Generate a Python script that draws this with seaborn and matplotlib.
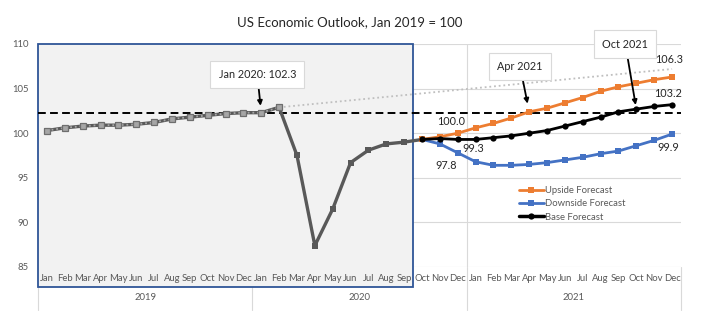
import matplotlib
matplotlib.use("Agg")
import matplotlib.pyplot as plt
import matplotlib.transforms as mtransforms
from matplotlib.patches import Rectangle
from matplotlib.lines import Line2D
import seaborn as sns
import pandas as pd
import numpy as np

# ---------------- data ----------------
months = ["Jan", "Feb", "Mar", "Apr", "May", "Jun", "Jul", "Aug", "Sep", "Oct", "Nov", "Dec"]
years = ["2019", "2020", "2021"]

# Actual index, Jan 2019 .. Oct 2020
history = [100.3, 100.6, 100.8, 100.9, 100.9, 101.0, 101.2, 101.6, 101.8, 102.0, 102.2, 102.3,
           102.3, 102.9, 97.5, 87.4, 91.5, 96.7, 98.1, 98.8, 99.0, 99.3]
# Forecasts, Oct 2020 .. Dec 2021
upside = [99.3, 99.6, 100.0, 100.6, 101.1, 101.7, 102.4, 102.8, 103.4, 104.0, 104.7, 105.2, 105.6, 106.0, 106.3]
downside = [99.3, 98.8, 97.8, 96.8, 96.4, 96.4, 96.5, 96.7, 97.0, 97.3, 97.7, 98.0, 98.6, 99.2, 99.9]
base = [99.3, 99.4, 99.3, 99.3, 99.5, 99.7, 100.0, 100.3, 100.8, 101.3, 101.8, 102.4, 102.7, 103.0, 103.2]
# Pre-COVID trend: Feb 2020 -> Dec 2021
trend_months = ["Feb 2020", "Dec 2021"]
trend_values = [102.9, 107.2]
pre_covid_level = 102.3
trend_fit_end = "Feb 2020"

# ---------------- build tables ----------------
labels = [f"{m} {y}" for y in years for m in months]
pos = {lab: i for i, lab in enumerate(labels)}
hist_df = pd.DataFrame({"x": range(len(history)), "v": history})
fc_start = len(history) - 1
fc_df = pd.DataFrame({
    "x": range(fc_start, fc_start + len(base)),
    "up": upside, "down": downside, "base": base,
})
trend_hist_df = hist_df[hist_df["x"] <= pos[trend_fit_end]]
trend_df = pd.DataFrame({"x": [pos[m] for m in trend_months], "v": trend_values})

# ---------------- style ----------------
sns.set_theme(style="white")
plt.rcParams["font.family"] = ["Lato", "DejaVu Sans"]
GRID = "#D9D9D9"
TXT = "#595959"
ORANGE = "#ED7D31"
BLUE = "#4472C4"
HIST = "#595959"

fig = plt.figure(figsize=(7.12, 3.32), dpi=100)
ax = fig.add_axes([38 / 712, 1 - 267 / 332, (681 - 38) / 712, (267 - 44) / 332])
ax.set_facecolor("white")
for s in ax.spines.values():
    s.set_visible(False)

ax.set_xlim(-0.5, len(labels) - 0.5)
ax.set_ylim(85, 110)
yt = [85, 90, 95, 100, 105, 110]
ax.set_yticks(yt)
ax.set_yticklabels([str(v) for v in yt])
ax.set_xticks(range(len(labels)))
ax.set_xticklabels(months * len(years))
ax.tick_params(axis="both", length=0, labelsize=6.8, labelcolor=TXT)
ax.tick_params(axis="y", pad=7)
ax.tick_params(axis="x", pad=5)
for v in yt:
    ax.axhline(v, color=GRID, lw=0.8, zorder=0)

blend = mtransforms.blended_transform_factory(ax.transData, ax.transAxes)
# year boundary inside plot
ax.axvline(23.5, color=GRID, lw=0.8, zorder=0)
# multi-level category axis separators
for b in [-0.5, 11.5, 23.5, len(labels) - 0.5]:
    ax.plot([b, b], [-0.195, 0], transform=blend, color=GRID, lw=0.8, clip_on=False, zorder=0)
for i, y in enumerate(years):
    ax.text(i * 12 + 5.5, -0.135, y, transform=blend, ha="center", va="center",
            fontsize=6.8, color=TXT)

# shaded history box
box = Rectangle((-0.5, -0.09), pos["Sep 2020"] + 1.0, 1.09, transform=blend,
                facecolor="#F2F2F2", edgecolor="#2F5597", lw=1.3, clip_on=False, zorder=0.5)
ax.add_patch(box)

# dashed pre-covid level
ax.axhline(pre_covid_level, color="black", lw=1.4, ls=(0, (4, 2.2)), zorder=2)

# ---------------- series ----------------
sns.lineplot(data=hist_df, x="x", y="v", ax=ax, color=HIST, lw=2.4, marker="s",
             markersize=4.5, markeredgewidth=0, zorder=3)
sns.lineplot(data=trend_df, x="x", y="v", ax=ax, color="#BFBFBF", lw=1.3,
             ls=(0, (1, 1.6)), zorder=3.5)
sns.lineplot(data=trend_hist_df, x="x", y="v", ax=ax, color="#A6A6A6", lw=1.3,
             ls=(0, (1, 1.6)), marker="s", markersize=3.8, markerfacecolor="#A6A6A6",
             markeredgecolor="#6E6E6E", markeredgewidth=0.9, zorder=4)
sns.lineplot(data=fc_df, x="x", y="down", ax=ax, color=BLUE, lw=2.0, marker="s",
             markersize=4.5, markeredgewidth=0, zorder=5)
sns.lineplot(data=fc_df, x="x", y="up", ax=ax, color=ORANGE, lw=2.0, marker="s",
             markersize=4.5, markeredgewidth=0, zorder=5)
sns.lineplot(data=fc_df, x="x", y="base", ax=ax, color="black", lw=2.0, marker="o",
             markersize=4.5, markeredgewidth=0, zorder=6)
ax.set_xlabel("")
ax.set_ylabel("")

# ---------------- data labels ----------------
def lab(text, x, y, dx, dy):
    ax.annotate(text, xy=(x, y), xytext=(dx * 0.72, dy * 0.72), textcoords="offset points",
                ha="center", va="center", fontsize=7.8, color="#262626", zorder=8)

i_dec20 = pos["Dec 2020"] - fc_start
i_jan21 = pos["Jan 2021"] - fc_start
lab(f"{upside[i_dec20]:.1f}", pos["Dec 2020"], upside[i_dec20], -7, 12)
lab(f"{downside[i_dec20]:.1f}", pos["Dec 2020"], downside[i_dec20], -12, -13)
lab(f"{base[i_jan21]:.1f}", pos["Jan 2021"], base[i_jan21], -2, -9)
lab(f"{upside[-1]:.1f}", pos["Dec 2021"], upside[-1], -3, 18)
lab(f"{base[-1]:.1f}", pos["Dec 2021"], base[-1], -4, 11)
lab(f"{downside[-1]:.1f}", pos["Dec 2021"], downside[-1], -4, -13)

# ---------------- callouts ----------------
def callout(text, x, y, dx, dy, shrink):
    ax.annotate(text, xy=(x, y), xytext=(dx * 0.72, dy * 0.72), textcoords="offset points",
                ha="center", va="center", fontsize=7.8, color="#262626", zorder=9,
                annotation_clip=False,
                bbox=dict(boxstyle="square,pad=0.75", fc="white", ec=GRID, lw=0.8),
                arrowprops=dict(arrowstyle="-|>", color="black", lw=1.3, mutation_scale=7,
                                shrinkA=0, shrinkB=shrink))

callout(f"Jan 2020: {history[pos['Jan 2020']]:.1f}", pos["Jan 2020"], history[pos["Jan 2020"]], -4, 38, 5)
callout("Apr 2021", pos["Apr 2021"], upside[pos["Apr 2021"] - fc_start], -9, 45, 6)
callout("Oct 2021", pos["Oct 2021"], base[pos["Oct 2021"] - fc_start], -11, 65, 3)

# ---------------- legend ----------------
handles = [
    Line2D([], [], color=ORANGE, lw=2.0, marker="s", markersize=4.5, markeredgewidth=0),
    Line2D([], [], color=BLUE, lw=2.0, marker="s", markersize=4.5, markeredgewidth=0),
    Line2D([], [], color="black", lw=2.5, marker="o", markersize=4.5, markeredgewidth=0),
]
leg = fig.legend(handles, ["Upside Forecast", "Downside Forecast", "Base Forecast"],
                 loc="upper left", bbox_to_anchor=(519 / 712, 1 - 186 / 332), frameon=False,
                 fontsize=6.8, handlelength=2.6, handletextpad=0.15, labelspacing=0.45,
                 borderpad=0, borderaxespad=0)
for t in leg.get_texts():
    t.set_color(TXT)
if ax.get_legend() is not None:
    ax.get_legend().remove()

fig.text(350 / 712, 1 - 22 / 332, "US Economic Outlook, Jan 2019 = 100", ha="center", va="center",
         fontsize=9.5, color="#262626")

fig.savefig("out.png", dpi=100, facecolor="white")
